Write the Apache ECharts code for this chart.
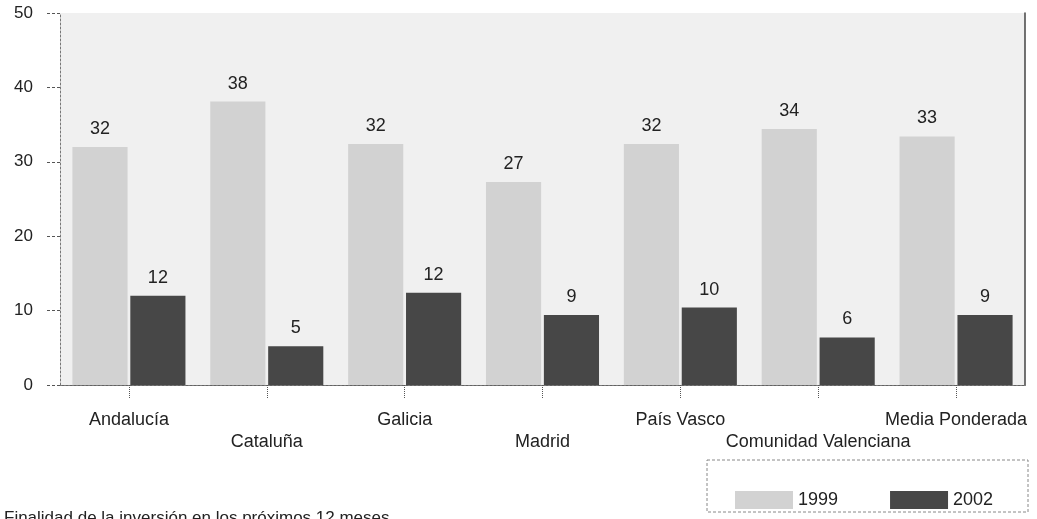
<!DOCTYPE html>
<html>
<head>
<meta charset="utf-8">
<script src="https://cdn.jsdelivr.net/npm/echarts@6/dist/echarts.min.js"></script>
<style>
  html, body { margin: 0; padding: 0; background: #fff; }
  #chart { width: 1037px; height: 519px; }
</style>
</head>
<body>
<div id="chart"></div>
<script>
// Regions compared
const categories = ['Andalucía', 'Cataluña', 'Galicia', 'Madrid', 'País Vasco', 'Comunidad Valenciana', 'Media Ponderada'];
// Percentages by year
const values1999 = [32.0, 38.1, 32.4, 27.3, 32.4, 34.4, 33.4];
const values2002 = [12.0, 5.2, 12.4, 9.4, 10.4, 6.4, 9.4];
const seriesNames = ['1999', '2002'];
const yTicks = { min: 0, max: 50, interval: 10 };

const FONT = '"Liberation Sans", Arial, sans-serif';
const LIGHT = '#d2d2d2';
const DARK = '#474747';

const chart = echarts.init(document.getElementById('chart'), null, { renderer: 'canvas' });

const valueLabel = {
  show: true,
  position: 'top',
  distance: 9,
  color: '#222',
  fontFamily: FONT,
  fontSize: 18,
  formatter: p => String(Math.round(p.value))
};

chart.setOption({
  animation: false,
  backgroundColor: '#ffffff',
  textStyle: { fontFamily: FONT },
  grid: {
    left: 60, right: 12, top: 13, bottom: 134,
    show: true,
    backgroundColor: '#f0f0f0',
    borderWidth: 0
  },
  legend: {
    data: seriesNames,
    left: 730, top: 486,
    icon: 'rect',
    itemWidth: 58, itemHeight: 18,
    itemGap: 52,
    textStyle: { fontSize: 18, color: '#222', fontFamily: FONT }
  },
  xAxis: [{
    type: 'category',
    data: categories,
    axisLine: { lineStyle: { color: '#555', width: 1.2 } },
    axisTick: {
      show: true,
      interval: 0,
      alignWithLabel: true,
      length: 14,
      lineStyle: { color: '#555', width: 1, type: 'dotted' }
    },
    axisLabel: {
      interval: 0,
      margin: 24,
      color: '#222',
      fontFamily: FONT,
      fontSize: 18,
      lineHeight: 22,
      formatter: (v, i) => (i % 2 ? '\n' + v : v)
    }
  }, {
    type: 'category',
    data: categories,
    position: 'top',
    axisLine: { lineStyle: { color: '#777', type: [2, 2] } },
    axisTick: { show: false },
    axisLabel: { show: false }
  }],
  yAxis: [{
    type: 'value',
    min: yTicks.min, max: yTicks.max, interval: yTicks.interval,
    axisLine: { show: true, lineStyle: { color: '#777', type: [2, 2] } },
    axisTick: { show: true, length: 13, lineStyle: { color: '#555', type: [3, 2] } },
    splitLine: { show: false },
    axisLabel: { margin: 27, color: '#222', fontFamily: FONT, fontSize: 17 }
  }, {
    type: 'value',
    position: 'right',
    min: yTicks.min, max: yTicks.max, interval: yTicks.interval,
    axisLine: { show: true, lineStyle: { color: '#444', width: 1.5 } },
    axisTick: { show: false },
    axisLabel: { show: false },
    splitLine: { show: false }
  }],
  series: [{
    name: seriesNames[0],
    type: 'bar',
    data: values1999,
    barGap: '5%',
    barCategoryGap: '18%',
    itemStyle: { color: LIGHT },
    label: valueLabel
  }, {
    name: seriesNames[1],
    type: 'bar',
    data: values2002,
    itemStyle: { color: DARK },
    label: valueLabel
  }],
  graphic: [{
    type: 'rect',
    z: -1,
    shape: { x: 707, y: 460, width: 321, height: 52 },
    style: { fill: '#fff', stroke: '#888', lineWidth: 1, lineDash: [3, 2] }
  }, {
    type: 'text',
    left: 4, top: 510,
    style: {
      text: 'Finalidad de la inversión en los próximos 12 meses',
      font: '17px ' + FONT,
      fill: '#222'
    }
  }]
});
</script>
</body>
</html>
